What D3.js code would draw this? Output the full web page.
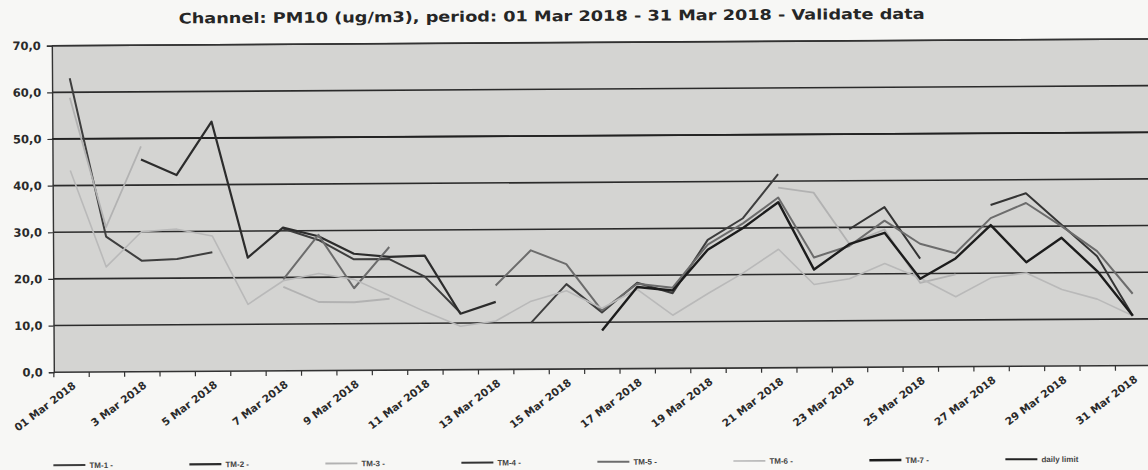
<!DOCTYPE html>
<html>
<head>
<meta charset="utf-8">
<script src="https://cdn.jsdelivr.net/npm/d3@7"></script>
<style>
  html, body { margin: 0; padding: 0; background: #f7f7f5; }
  svg { display: block; }
</style>
</head>
<body>
<div id="chart"></div>
<script>
(function(d3) {

  // Data (ug/m3), one value per day, null = no data.
  var days = d3.range(1, 32);
  var dayLabels = ['01 Mar 2018', '3 Mar 2018', '5 Mar 2018', '7 Mar 2018', '9 Mar 2018',
    '11 Mar 2018', '13 Mar 2018', '15 Mar 2018', '17 Mar 2018', '19 Mar 2018', '21 Mar 2018',
    '23 Mar 2018', '25 Mar 2018', '27 Mar 2018', '29 Mar 2018', '31 Mar 2018'];
  var yTicks = [0, 10, 20, 30, 40, 50, 60, 70];
  var dailyLimit = 50;

  var tm1 = [63, 29, 23.8, 24.1, 25.5, null, 30.5, 28, 23.8, 23.8, 20, 12.2, null, 10, 18.2, 12.1,
    18.4, 16.1, 27.5, 32.1, 41.5, null, null, null, null, null, null, null, null, null, null];
  var tm2 = [null, null, 45.5, 42.1, 53.5, 24.3, 30.7, 28.8, 25, 24.3, 24.5, 12, 14.5, null, null, null,
    null, null, null, null, null, null, null, null, null, null, null, null, null, null, null];
  var tm3 = [58.8, 31, 48.3, null, null, null, 18, 14.7, 14.6, 15.3, null, null, null, null, null, null,
    null, null, null, null, 38.6, 37.5, 26.5, 29.5, 18, 19.8, null, null, null, null, null];
  var tm4 = [null, null, null, null, null, null, null, null, null, null, null, null, null, null, null, null,
    null, null, null, null, null, null, 29.6, 34.3, 23.2, null, 34.6, 37.1, 30.3, 23.5, 10.7];
  var tm5 = [null, null, null, null, null, null, 19.6, 29.1, 17.6, 26.4, null, null, 18, 25.5, 22.5, 12.5,
    18.2, 17.3, 26.5, 31, 36.5, 23.6, 26, 31.4, 26.4, 24.3, 31.8, 35, 30, 24.6, 15.4];
  var tm6 = [43.2, 22.5, 30, 30.5, 29, 14.3, 19.3, 20.8, 19.5, 16, 12.5, 9.3, 10.4, 14.6, 16.8, 13,
    17, 11.4, 16, 20.4, 25.4, 17.8, 19, 22.2, 19, 15, 19, 20, 16.4, 14.3, 10.7];
  var tm7 = [null, null, null, null, null, null, null, null, null, null, null, null, null, null, null, 8.2,
    17.5, 16.7, 25.4, 30, 35.5, 21, 26.4, 28.8, 18.9, 23.2, 30.3, 22.3, 27.5, 20.3, 10.7];

  var series = [
    { name: 'TM-1 -', values: tm1, color: '#3e3e3e', width: 2 },
    { name: 'TM-2 -', values: tm2, color: '#2c2c2c', width: 2.2 },
    { name: 'TM-3 -', values: tm3, color: '#b2b2b2', width: 1.8 },
    { name: 'TM-4 -', values: tm4, color: '#343434', width: 2 },
    { name: 'TM-5 -', values: tm5, color: '#6c6c6c', width: 2 },
    { name: 'TM-6 -', values: tm6, color: '#b9b9b9', width: 1.6 },
    { name: 'TM-7 -', values: tm7, color: '#1c1c1c', width: 2.4 }
  ];

  var W = 1148, H = 470;
  var left = 53, right = 1150, top = 42.5, bottom = 369;

  var svg = d3.select('#chart').append('svg')
    .attr('width', W)
    .attr('height', H);

  // The scan is slightly rotated.
  var g = svg.append('g')
    .attr('transform', 'rotate(-0.35,' + (W / 2) + ',' + (H / 2) + ')');

  var x = d3.scaleBand()
    .domain(days)
    .range([left, right]);

  var y = d3.scaleLinear()
    .domain([0, 70])
    .range([bottom, top]);

  var cx = function(d) { return x(d) + x.bandwidth() / 2; };

  // Plot background.
  g.append('rect')
    .attr('x', left)
    .attr('y', top)
    .attr('width', right - left)
    .attr('height', bottom - top)
    .attr('fill', '#d4d4d2');

  // Gridlines.
  g.append('g')
    .selectAll('line')
    .data(yTicks.filter(function(v) { return v > 0; }))
    .join('line')
      .attr('x1', left)
      .attr('x2', right)
      .attr('y1', function(v) { return y(v); })
      .attr('y2', function(v) { return y(v); })
      .attr('stroke', '#2b2b2b')
      .attr('stroke-width', 1.6);

  // Y axis.
  var yAxis = g.append('g')
    .attr('transform', 'translate(' + left + ',0)')
    .call(d3.axisLeft(y)
      .tickValues(yTicks)
      .tickSize(5)
      .tickPadding(6)
      .tickFormat(function(v) { return d3.format('.1f')(v).replace('.', ','); }));
  yAxis.select('.domain').attr('stroke', '#333').attr('stroke-width', 1.4);
  yAxis.selectAll('.tick line').attr('stroke', '#333').attr('stroke-width', 1.2);
  yAxis.selectAll('text')
    .attr('fill', '#2a2a2a')
    .style('font-family', '"DejaVu Sans", Verdana, sans-serif')
    .style('font-weight', 'bold')
    .style('font-size', '11.5px');

  // X axis: ticks between categories.
  var boundaries = days.map(function(d) { return x(d); }).concat([right]);
  g.append('line')
    .attr('x1', left).attr('x2', right)
    .attr('y1', bottom).attr('y2', bottom)
    .attr('stroke', '#333').attr('stroke-width', 1.6);
  g.append('g')
    .selectAll('line')
    .data(boundaries)
    .join('line')
      .attr('x1', function(b) { return b; })
      .attr('x2', function(b) { return b; })
      .attr('y1', bottom)
      .attr('y2', bottom + 5)
      .attr('stroke', '#333')
      .attr('stroke-width', 1.2);

  g.append('g')
    .selectAll('text')
    .data(dayLabels)
    .join('text')
      .attr('transform', function(t, i) {
        return 'translate(' + (cx(1 + i * 2) + 5) + ',' + (bottom + 15) + ') rotate(-37)';
      })
      .attr('text-anchor', 'end')
      .attr('fill', '#2a2a2a')
      .style('font-family', '"DejaVu Sans", Verdana, sans-serif')
      .style('font-weight', 'bold')
      .style('font-size', '10.5px')
      .text(function(t) { return t; });

  // Daily limit.
  g.append('line')
    .attr('x1', left).attr('x2', right)
    .attr('y1', y(dailyLimit)).attr('y2', y(dailyLimit))
    .attr('stroke', '#222')
    .attr('stroke-width', 1.8);

  // Series.
  var line = d3.line()
    .defined(function(v) { return v != null; })
    .x(function(v, i) { return cx(days[i]); })
    .y(function(v) { return y(v); });

  g.append('g')
    .selectAll('path')
    .data(series)
    .join('path')
      .attr('d', function(s) { return line(s.values); })
      .attr('fill', 'none')
      .attr('stroke', function(s) { return s.color; })
      .attr('stroke-width', function(s) { return s.width; })
      .attr('stroke-linejoin', 'round');

  // Top border.
  g.append('line')
    .attr('x1', left).attr('x2', right)
    .attr('y1', top).attr('y2', top)
    .attr('stroke', '#333').attr('stroke-width', 1.4);

  // Title.
  var title = g.append('text')
    .attr('x', 553)
    .attr('y', 21)
    .attr('text-anchor', 'middle')
    .attr('fill', '#262626')
    .style('font-family', '"DejaVu Sans", Verdana, sans-serif')
    .style('font-weight', 'bold')
    .style('font-size', '14.5px')
    .text('Channel: PM10 (ug/m3), period: 01 Mar 2018 - 31 Mar 2018 - Validate data');
  title.attr('textLength', 746).attr('lengthAdjust', 'spacingAndGlyphs');

  // Legend.
  var legendItems = series.map(function(s) { return { name: s.name, color: s.color, width: s.width }; })
    .concat([{ name: 'daily limit', color: '#222', width: 2 }]);

  var legend = g.append('g')
    .selectAll('g')
    .data(legendItems)
    .join('g')
      .attr('transform', function(l, i) { return 'translate(' + (52 + i * 136) + ',462)'; });

  legend.append('line')
    .attr('x1', 0).attr('x2', 32)
    .attr('stroke', function(l) { return l.color; })
    .attr('stroke-width', function(l) { return l.width; });

  legend.append('text')
    .attr('x', 36)
    .attr('y', 3)
    .attr('fill', '#444')
    .style('font-family', '"Liberation Sans", Arial, sans-serif')
    .style('font-weight', 'bold')
    .style('font-size', '8px')
    .text(function(l) { return l.name; });

})(d3);
</script>
</body>
</html>
